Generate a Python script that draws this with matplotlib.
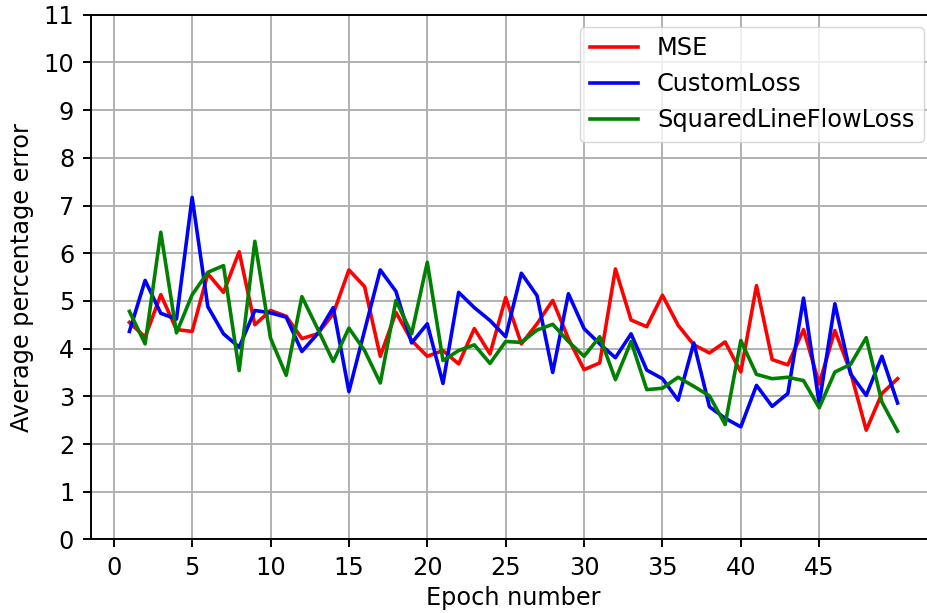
import matplotlib
matplotlib.use("Agg")
import matplotlib.pyplot as plt

epochs = list(range(1, 51))

mse = [4.55, 4.24, 5.13, 4.40, 4.36, 5.57, 5.18, 6.03, 4.50, 4.80,
       4.68, 4.21, 4.31, 4.73, 5.65, 5.30, 3.84, 4.76, 4.17, 3.84,
       3.96, 3.68, 4.42, 3.89, 5.07, 4.10, 4.52, 5.01, 4.21, 3.56,
       3.70, 5.67, 4.60, 4.46, 5.12, 4.49, 4.08, 3.91, 4.14, 3.51,
       5.32, 3.77, 3.66, 4.40, 3.26, 4.38, 3.51, 2.29, 3.06, 3.37]

custom = [4.36, 5.43, 4.74, 4.62, 7.17, 4.88, 4.31, 4.03, 4.80, 4.75,
          4.66, 3.94, 4.31, 4.86, 3.10, 4.38, 5.65, 5.20, 4.12, 4.52,
          3.27, 5.18, 4.86, 4.59, 4.25, 5.58, 5.11, 3.50, 5.15, 4.42,
          4.10, 3.81, 4.31, 3.55, 3.37, 2.92, 4.12, 2.78, 2.54, 2.36,
          3.23, 2.79, 3.06, 5.06, 2.85, 4.94, 3.47, 3.02, 3.84, 2.86]

squared = [4.78, 4.10, 6.44, 4.33, 5.13, 5.60, 5.74, 3.54, 6.25, 4.22,
           3.44, 5.09, 4.42, 3.73, 4.43, 3.96, 3.28, 5.01, 4.31, 5.81,
           3.75, 3.96, 4.08, 3.69, 4.15, 4.13, 4.39, 4.51, 4.15, 3.84,
           4.25, 3.35, 4.15, 3.14, 3.17, 3.40, 3.21, 3.01, 2.41, 4.17,
           3.46, 3.37, 3.40, 3.33, 2.76, 3.51, 3.67, 4.23, 2.88, 2.27]

# original looks like a default-style plot saved at ~173 dpi, so scale everything
s = 1.73
plt.rcParams.update({
    "font.size": 10 * s,
    "xtick.major.pad": 3.5 * s,
    "ytick.major.pad": 3.5 * s,
    "axes.labelpad": 4 * s,
})

fig = plt.figure(figsize=(9.27, 6.13), dpi=100)
ax = fig.add_axes([0.0982, 0.120, 0.9115, 0.856])

ax.plot(epochs, mse, color="red", lw=1.5 * s, label="MSE")
ax.plot(epochs, custom, color="blue", lw=1.5 * s, label="CustomLoss")
ax.plot(epochs, squared, color="green", lw=1.5 * s, label="SquaredLineFlowLoss")

ax.set_xlim(-1.45, 52.45)
ax.set_ylim(0, 11)
ax.set_xticks(range(0, 50, 5))
ax.set_yticks(range(0, 12))
ax.set_xlabel("Epoch number", labelpad=2.5 * s)
ax.set_ylabel("Average percentage error")
ax.grid(True, color="#b0b0b0", lw=0.8 * s)
for sp in ax.spines.values():
    sp.set_linewidth(0.8 * s)
ax.tick_params(width=0.8 * s, length=3.5 * s)
ax.legend(loc="upper right")

fig.savefig("out.png", dpi=100, facecolor="white")
